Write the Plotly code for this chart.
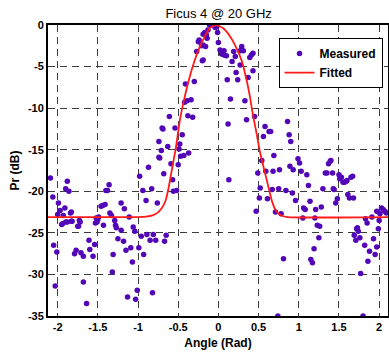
import plotly.graph_objects as go

# Measured scatter points (angle in rad, received power in dB)
meas_x = [
    -2.09, -2.06, -1.99, -2.00, -1.97, -1.91, -1.90, -1.88, -1.86, -1.84, -1.83, -1.73, -1.94, -1.95, -1.90, -1.88,
    -2.05, -2.01, -2.03, -1.79, -1.77, -1.74, -1.71, -1.68, -1.68, -1.64, -1.61, -1.60, -1.56, -1.54, -1.53, -1.51,
    -1.43, -1.32, -1.31, -1.28, -1.27, -1.25, -1.21, -1.18, -1.15, -1.13, -1.09, -1.07, -1.06, -1.04, -1.03, -1.01,
    -0.99, -0.96, -0.93, -0.89, -0.85, -0.82, -0.81, -0.78, -0.67, -0.65,
    -1.49, -1.50, -1.52, -1.46, -1.44, -1.41, -1.40, -1.38, -1.36, -1.35, -1.33, -1.21, -1.17, -1.11, -1.29,
    -1.82, -1.75, -1.72, -1.83, -1.93,
    -0.98, -0.94, -0.90, -0.87, -0.83, -0.76, -0.74, -0.73, -0.71, -0.69, -0.68, -0.63, -0.61, -0.59, -0.57, -0.56,
    -0.54, -0.52, -0.50, -0.48, -0.49, -0.47, -0.43, -0.37, -0.45, -0.70, -0.74, -0.38, -0.32,
    -0.27, -0.25, -0.24, -0.21, -0.19, -0.16, -0.19, -0.20, -0.15, -0.13, -0.11, -0.07, -0.04, -0.01, 0.00, -0.02,
    -0.30, -0.41, -0.42, -0.39, -0.34, -0.17, -0.14, -0.19,
    0.02, 0.07, 0.04, 0.07, 0.10, 0.19, 0.21, 0.29, 0.31, 0.27, 0.39, 0.41, 0.43, 0.17, 0.27, 0.22, 0.43, 0.37,
    0.11, 0.24, 0.15, 0.33, 0.12, 0.35, 0.45, 0.86, 0.58, 0.63, 0.65, 0.88, 0.56, 0.90, 0.69, 0.54, 0.99, 1.01, 1.40,
    0.13, 0.47, 0.49, 0.51, 0.52, 0.59, 0.61, 0.68, 0.67, 0.71, 0.78, 0.76, 0.75, 0.84, 0.89, 0.93, 1.03, 1.10,
    1.12, 0.92, 0.96, 1.06, 1.08, 1.05, 1.14, 1.21, 1.20, 1.23, 1.26, 1.25, 1.19, 1.15, 1.17, 1.28, 1.30, 1.33,
    1.35, 1.37, 1.39, 1.42, 1.43, 1.44, 1.46, 1.48, 1.50, 1.51, 1.53, 1.55, 1.57, 1.59, 1.60, 1.61, 1.63, 1.68,
    1.65, 1.67, 1.69, 1.71, 1.72, 1.74, 1.76, 1.77, 1.80, 1.82, 1.83, 1.85, 1.86, 1.88, 1.91, 1.93, 1.95, 1.97,
    1.99, 2.00, 2.01, 2.03, 2.05, 2.07, 2.09, 0.74, 0.81, 1.73, 1.97,
]
meas_y = [
    -18.4, -20.7, -21.4, -22.8, -22.3, -22.0, -19.7, -18.8, -20.0, -22.6, -23.6, -23.5, -23.9, -24.0, -23.7, -23.7,
    -26.5, -27.3, -31.4, -27.5, -27.1, -24.2, -27.4, -27.8, -30.9, -33.5, -25.9, -27.0, -27.8, -26.4, -23.8, -23.7,
    -24.1, -29.7, -27.6, -24.1, -24.4, -25.7, -24.7, -26.0, -27.1, -32.7, -26.8, -28.5, -24.3, -24.8, -33.0, -31.9,
    -26.8, -25.4, -27.6, -25.2, -25.9, -32.2, -25.2, -25.9, -26.0, -25.3,
    -23.1, -23.4, -23.2, -21.8, -21.7, -21.6, -19.9, -19.9, -19.2, -22.6, -22.9, -21.4, -22.1, -23.1, -23.5,
    -23.6, -24.2, -23.7, -22.5, -22.9,
    -18.2, -19.9, -21.1, -17.1, -19.7, -21.4, -14.0, -16.0, -15.1, -12.5, -17.9, -14.6, -11.0, -16.7, -18.6, -20.0,
    -12.4, -19.9, -16.8, -14.3, -14.9, -15.8, -15.7, -15.4, -13.2, -12.4, -15.9, -10.9, -11.1,
    -3.2, -2.0, -1.8, -2.5, -2.4, -2.6, -4.2, -4.3, -1.2, -0.6, 0.0, 0.0, -0.3, -0.9, -2.1, -0.2,
    -6.8, -7.1, -9.3, -9.1, -9.0, -0.9, -1.6, -1.1,
    -3.0, -3.1, -3.5, -3.6, -3.7, -3.2, -3.8, -2.6, -3.1, -3.1, -3.9, -3.6, -3.4, -4.4, -4.8, -5.7, -5.5, -6.3,
    -6.6, -6.6, -8.9, -9.1, -11.9, -11.4, -11.0, -11.6, -12.2, -12.8, -12.8, -13.2, -13.4, -14.0, -15.7, -16.3, -16.1, -16.6, -16.3,
    -18.6, -22.4, -17.8, -20.8, -19.6, -17.6, -20.9, -17.6, -19.8, -22.5, -22.7, -17.4, -19.7, -19.9, -17.0, -17.4, -17.6, -18.0,
    -19.3, -20.2, -21.1, -22.0, -22.2, -23.2, -21.2, -22.2, -23.2, -24.1, -24.2, -25.6, -26.9, -28.2, -28.6, -21.9, -19.7, -17.8,
    -17.8, -16.7, -16.4, -17.8, -19.7, -19.8, -21.4, -20.9, -18.0, -18.5, -18.3, -18.9, -18.9, -18.8, -18.7, -20.4, -20.8, -20.8,
    -18.3, -18.2, -25.3, -25.9, -24.5, -24.8, -25.6, -29.9, -35.0, -26.5, -23.3, -23.8, -28.4, -27.2, -23.1, -25.7, -27.6, -26.7,
    -24.5, -23.5, -22.7, -22.0, -22.2, -22.4, -22.6, -35.0, -28.1, -24.4, -22.4,
]

# Fitted curve
fit_x = [-2.12, -1.00, -0.90, -0.82, -0.76, -0.71, -0.66, -0.62, -0.59, -0.56, -0.53, -0.48, -0.43, -0.37,
         -0.30, -0.24, -0.17, -0.11, -0.03, 0.06, 0.14, 0.22, 0.29, 0.35, 0.39, 0.42, 0.47, 0.52, 0.58,
         0.63, 0.67, 0.72, 0.79, 0.86, 2.12]
fit_y = [-23.1, -23.1, -23.05, -22.9, -22.6, -22.1, -21.2, -19.6, -18.0, -16.4, -14.8, -11.5, -9.1, -6.7,
         -4.4, -2.8, -1.4, -0.4, 0.0, -0.4, -1.3, -2.7, -4.3, -6.6, -8.5, -10.3, -12.8, -15.4, -17.8,
         -19.8, -21.3, -22.4, -22.95, -23.1, -23.1]

x_ticks = [-2, -1.5, -1, -0.5, 0, 0.5, 1, 1.5, 2]
y_ticks = [0, -5, -10, -15, -20, -25, -30, -35]

FONT = "Arial, Liberation Sans, sans-serif"

fig = go.Figure()
fig.add_trace(go.Scatter(
    x=meas_x, y=meas_y, mode="markers", name="<b>Measured</b>",
    marker=dict(color="#5206b8", size=5.5, line=dict(width=0)),
))
fig.add_trace(go.Scatter(
    x=fit_x, y=fit_y, mode="lines", name="<b>Fitted</b>",
    line=dict(color="#ff1a1a", width=1.8, shape="spline", smoothing=0.6),
))

axis_common = dict(
    showgrid=True, gridcolor="#3c3c3c", gridwidth=1, griddash="7px,5px",
    showline=True, linecolor="black", linewidth=2, mirror=True,
    zeroline=False, ticks="", color="black", automargin=False,
    tickfont=dict(family=FONT, size=11, color="black", weight="bold"),
)

fig.update_layout(
    width=389, height=354, autosize=False,
    margin=dict(l=48, r=1, t=25, b=38, autoexpand=False),
    paper_bgcolor="white", plot_bgcolor="white",
    title=dict(text="Ficus 4 @ 20 GHz", x=0.562, xanchor="center", y=0.963, yanchor="middle",
               font=dict(family=FONT, size=13, color="black")),
    xaxis=dict(range=[-2.12, 2.11], tickvals=x_ticks, ticktext=[str(v) for v in x_ticks],
               title=dict(text="<b>Angle (Rad)</b>", font=dict(family=FONT, size=12, color="black"), standoff=6),
               **axis_common),
    yaxis=dict(range=[-35, 0], tickvals=y_ticks, ticktext=[str(v) for v in y_ticks],
               title=dict(text="<b>Pr (dB)</b>", font=dict(family=FONT, size=12, color="black"), standoff=6),
               **axis_common),
    legend=dict(x=0.678, y=0.955, xanchor="left", yanchor="top",
                bgcolor="white", bordercolor="black", borderwidth=1,
                font=dict(family=FONT, size=12, color="black"),
                tracegroupgap=0, itemwidth=30),
    showlegend=True,
)

fig.write_html("out.html", config={"displayModeBar": False, "responsive": False},
               post_script="document.body.style.margin='0';document.body.style.overflow='hidden';")
